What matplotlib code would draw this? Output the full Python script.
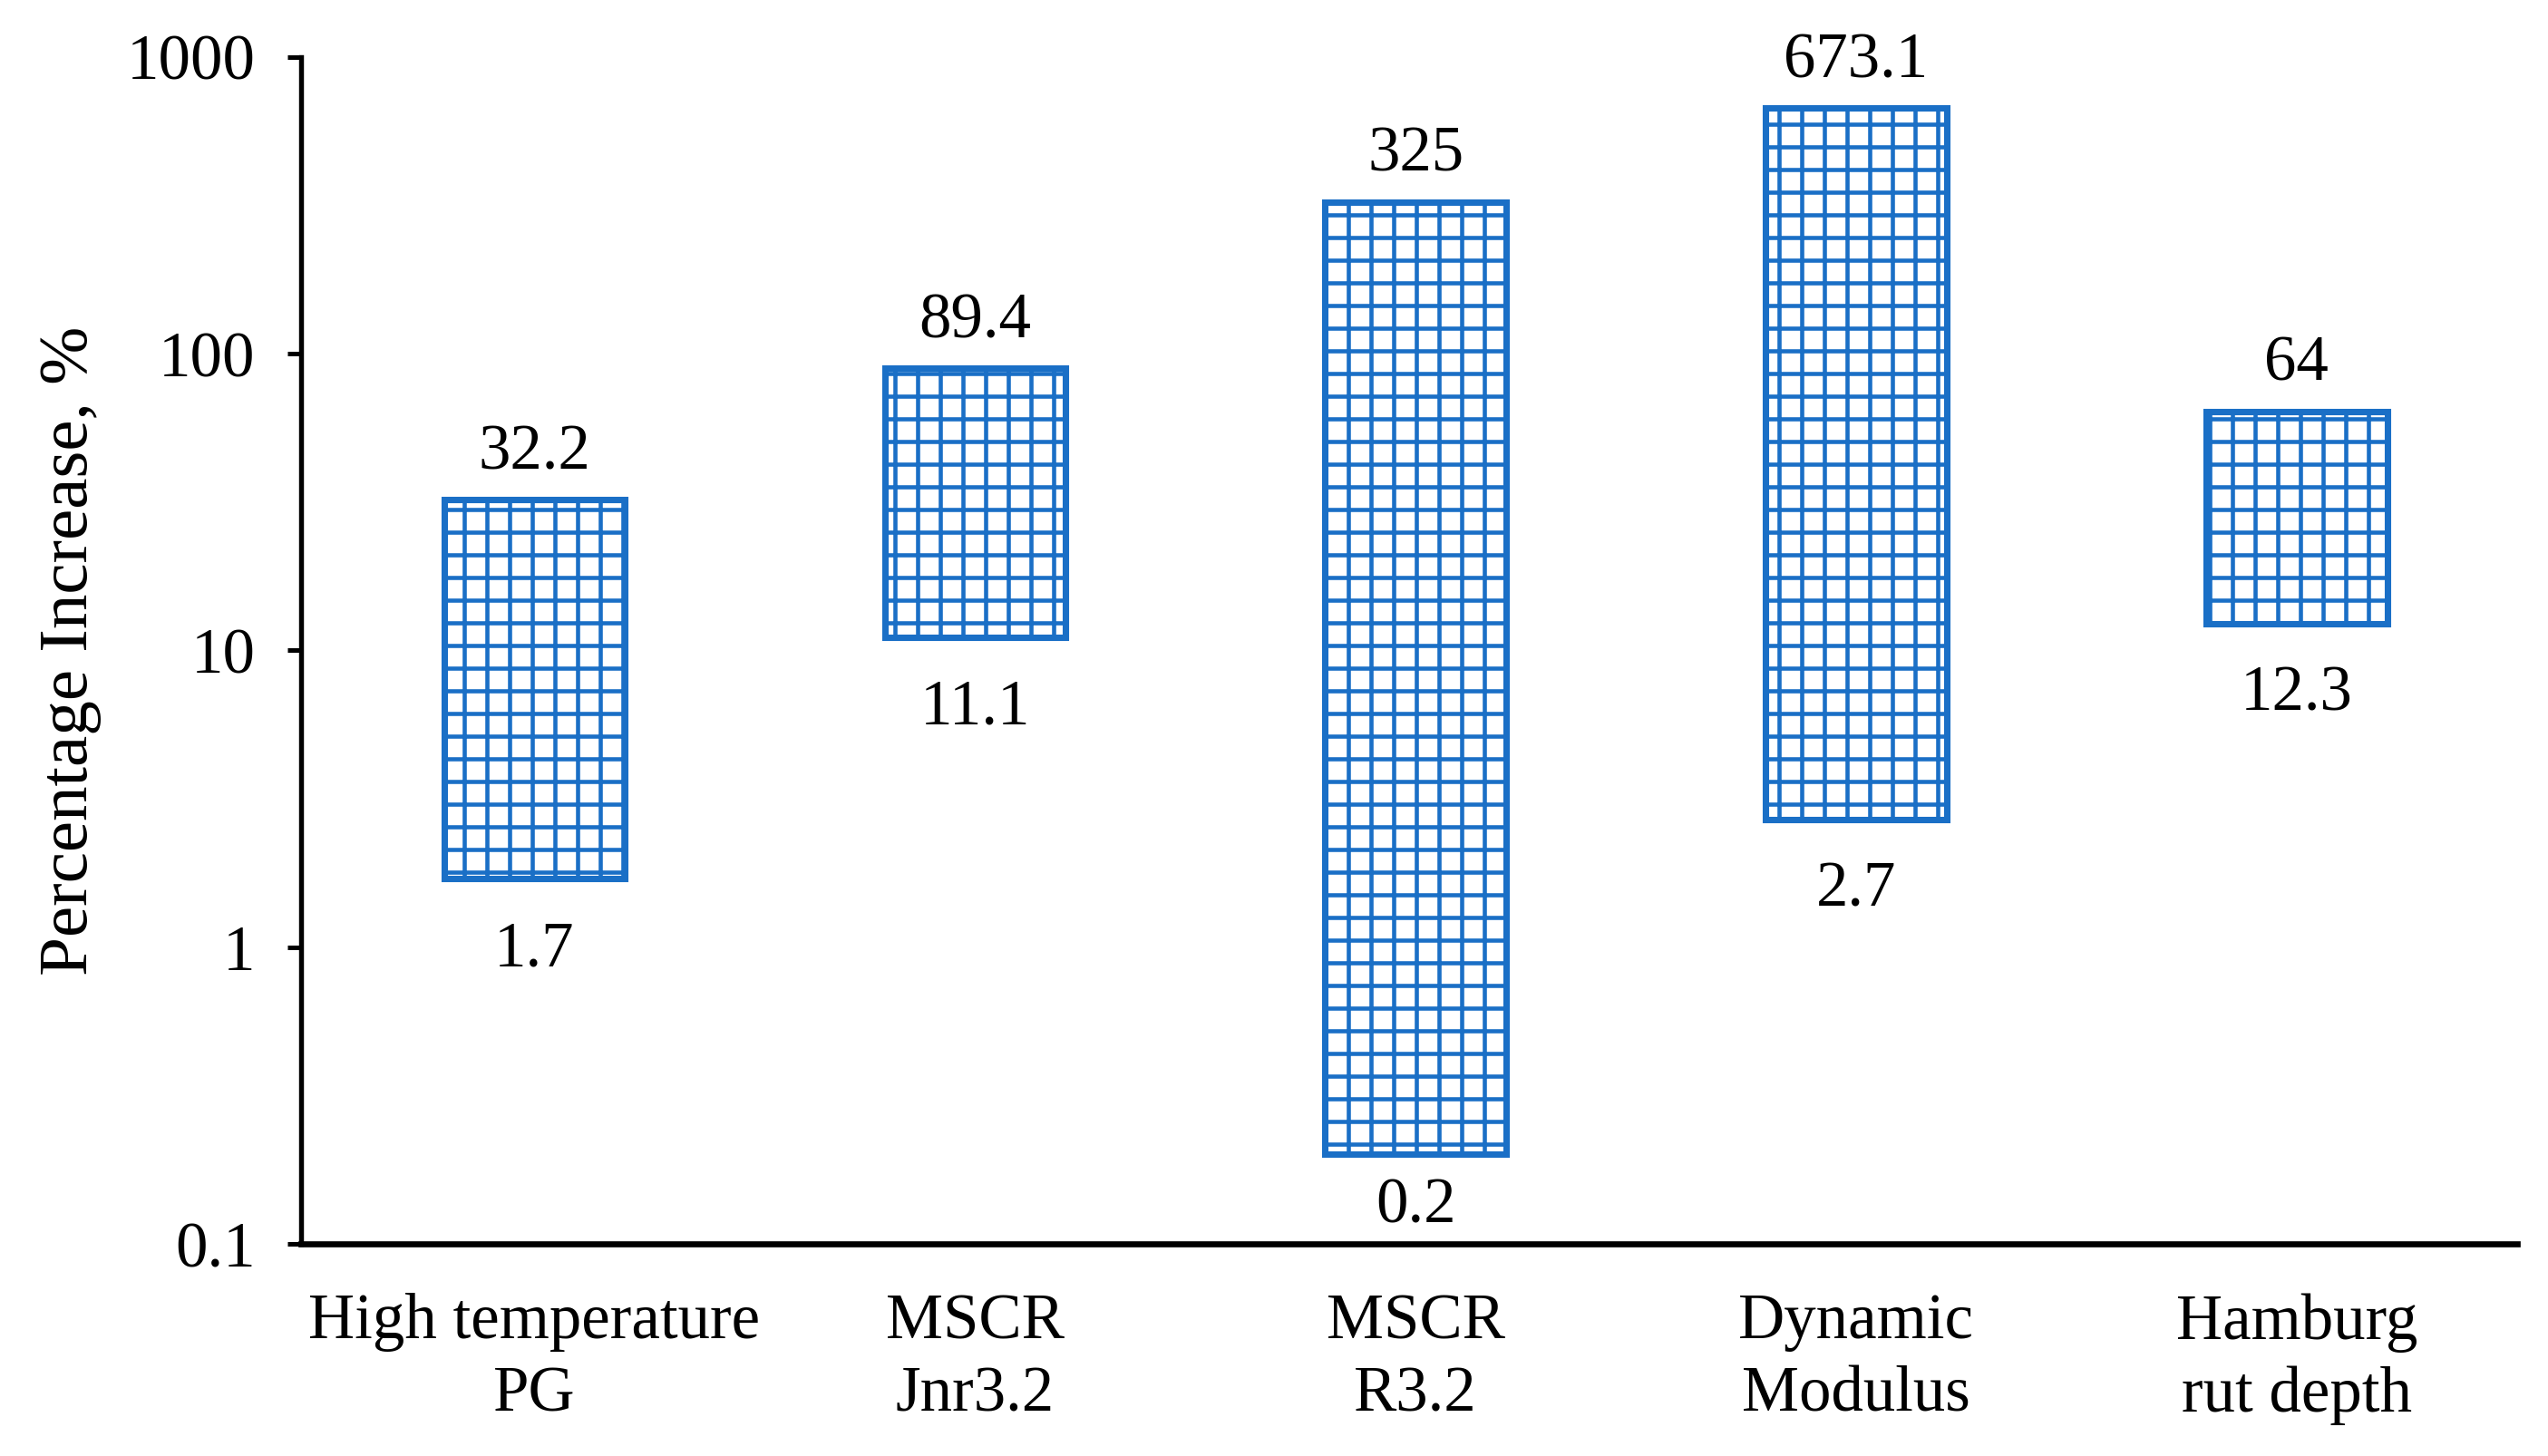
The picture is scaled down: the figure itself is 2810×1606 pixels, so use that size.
import matplotlib.pyplot as plt
import numpy as np

# categories and floating bar ranges (low, high)
categories = ["High temperature\nPG", "MSCR\nJnr3.2", "MSCR\nR3.2", "Dynamic\nModulus", "Hamburg\nrut depth"]
low_vals = [1.7, 11.1, 0.2, 2.7, 12.3]
high_vals = [32.2, 89.4, 325, 673.1, 64]
low_text = ["1.7", "11.1", "0.2", "2.7", "12.3"]
high_text = ["32.2", "89.4", "325", "673.1", "64"]
y_ticks = [0.1, 1, 10, 100, 1000]
y_tick_labels = ["0.1", "1", "10", "100", "1000"]

plt.rcParams['font.family'] = ['Liberation Serif', 'DejaVu Serif']
plt.rcParams['hatch.linewidth'] = 2.2
plt.rcParams['hatch.color'] = '#1a6fc6'

fig = plt.figure(figsize=(2811 / 150, 1606 / 150), dpi=150)
ax = fig.add_axes([0.118, 0.1457, 0.8695, 0.8151])

x = np.arange(len(categories))
heights = [h - l for h, l in zip(high_vals, low_vals)]
ax.bar(x, heights, bottom=low_vals, width=0.41, color='white',
       edgecolor='#1a6fc6', linewidth=3.4, hatch='+')

for xi, lo, hi, lt, ht in zip(x, low_vals, high_vals, low_text, high_text):
    ax.annotate(ht, (xi, hi), xytext=(0, 9), textcoords='offset points',
                ha='center', va='bottom', fontsize=34)
    # keep the lowest label clear of the x axis
    off = -22 if lo > 0.3 else -12
    ax.annotate(lt, (xi, lo), xytext=(0, off), textcoords='offset points',
                ha='center', va='top', fontsize=34)

ax.set_yscale('log')
ax.set_ylim(0.1, 1000)
ax.set_xlim(-0.53, 4.5)
ax.set_yticks(y_ticks)
ax.set_yticklabels(y_tick_labels)
ax.yaxis.set_minor_locator(plt.NullLocator())
ax.set_xticks(x)
ax.set_xticklabels(categories, fontsize=34, linespacing=1.3)

ax.tick_params(axis='y', direction='out', length=7, width=2.4, pad=17, labelsize=34)
ax.tick_params(axis='x', length=0, pad=26)

ax.spines['top'].set_visible(False)
ax.spines['right'].set_visible(False)
ax.spines['left'].set_linewidth(2.6)
ax.spines['bottom'].set_linewidth(3.2)

ax.set_ylabel("Percentage Increase, %", fontsize=37)
ax.yaxis.set_label_coords(-0.09, 0.5)

fig.savefig("out.png", dpi=150)
